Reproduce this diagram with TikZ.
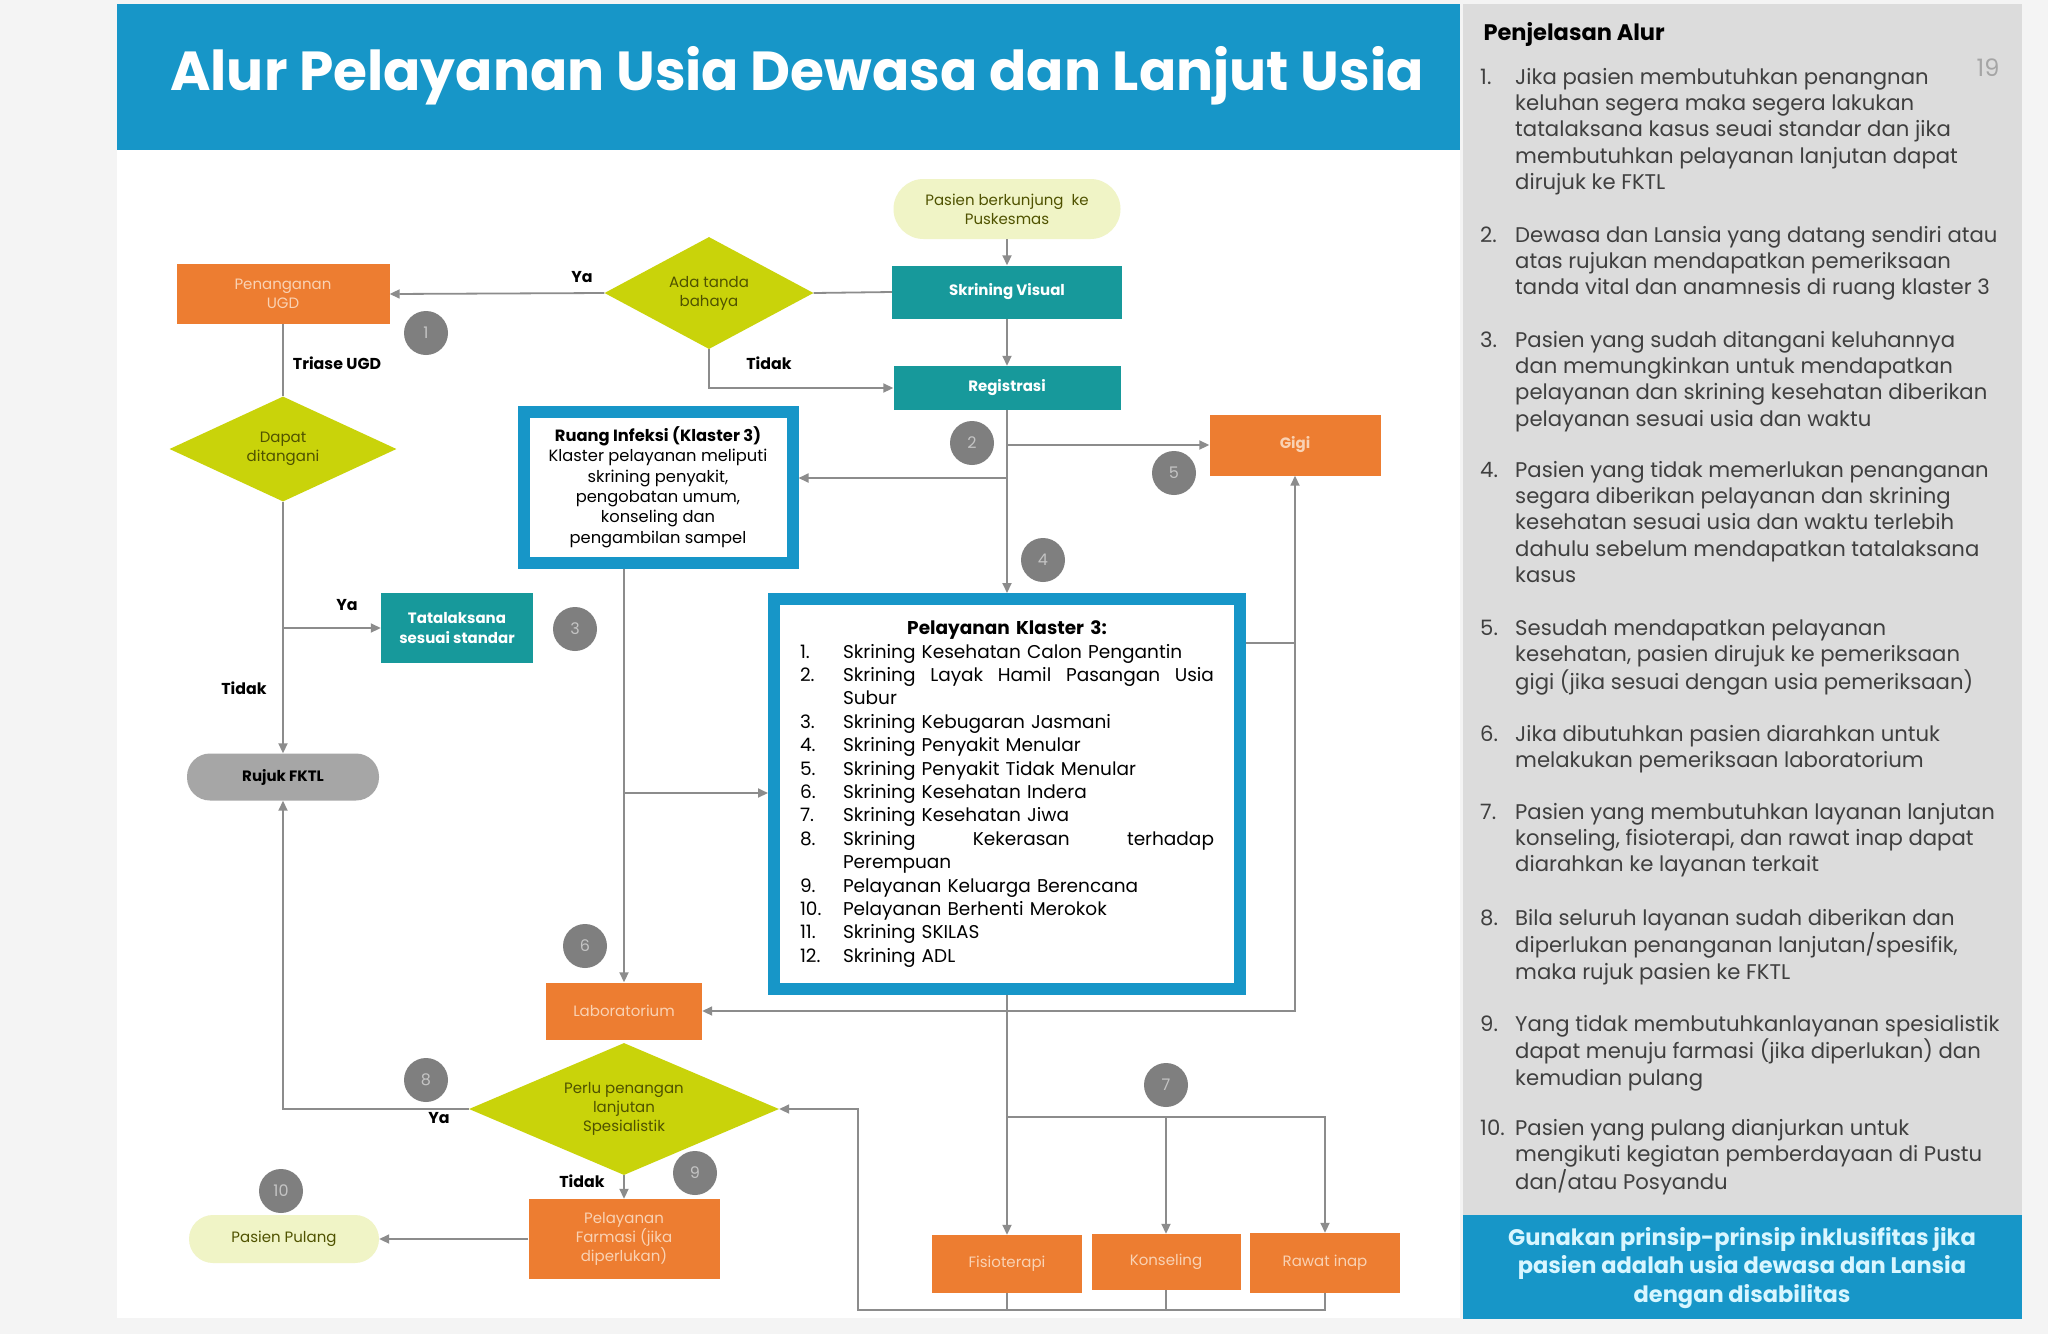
\documentclass[tikz,border=0pt]{standalone}
\usepackage{fontspec}
\setmainfont{Poppins}
\usetikzlibrary{arrows.meta,shapes.geometric}

\definecolor{bannerblue}{HTML}{1796C8}
\definecolor{tealfill}{HTML}{17999B}
\definecolor{orangefill}{HTML}{ED7D31}
\definecolor{orangetext}{HTML}{F9D2B4}
\definecolor{limefill}{HTML}{C9D30A}
\definecolor{olivetext}{HTML}{4F5200}
\definecolor{palefill}{HTML}{F0F4C6}
\definecolor{pillgray}{HTML}{A6A6A6}
\definecolor{numgray}{HTML}{7F7F7F}
\definecolor{numtext}{HTML}{C4C4C4}
\definecolor{linegray}{HTML}{8C8C8C}
\definecolor{panelgray}{HTML}{DCDCDC}
\definecolor{paneltext}{HTML}{3F3F3F}
\definecolor{notetext}{HTML}{D8F6FF}
\definecolor{pagegray}{HTML}{F4F4F4}

% one numbered item of the side panel
\newcommand{\panelitem}[2]{\begin{tabular}[t]{@{}p{35pt}@{}l@{}}#1&#2\end{tabular}}

\begin{document}
\begin{tikzpicture}[x=1pt, y=-1pt,
    plainline/.style={draw=linegray, line width=1.8pt},
    arrowline/.style={plainline, -{Triangle[length=10pt,width=9pt]}},
    flowbox/.style={rectangle, inner sep=0pt, align=center, font=\fontsize{15}{19}\selectfont},
    tealbox/.style={flowbox, fill=tealfill, text=white, font=\bfseries\fontsize{15}{19}\selectfont},
    orangebox/.style={flowbox, fill=orangefill, text=orangetext},
    choicebox/.style={diamond, fill=limefill, inner sep=0pt, align=center, text=olivetext, font=\fontsize{15}{19}\selectfont},
    pillbox/.style={flowbox, fill=palefill, text=olivetext},
    klasterframe/.style={rectangle, draw=bannerblue, line width=12pt, fill=white, inner sep=0pt},
    numcircle/.style={circle, fill=numgray, text=numtext, minimum size=44pt, inner sep=0pt, font=\fontsize{16}{16}\selectfont},
    edgelabel/.style={inner sep=0pt, font=\bfseries\fontsize{15.8}{16}\selectfont},
  ]
\useasboundingbox (0,0) rectangle (2048,1334);
\fill[pagegray] (0,0) rectangle (2048,1334);
\fill[white] (117,150) rectangle (1460,1318);

% title banner
\fill[bannerblue] (117,4) rectangle (1460,150);
\node[text=white, font=\bfseries\fontsize{55}{62}\selectfont] (title) at (797,76) {Alur Pelayanan Usia Dewasa dan Lanjut Usia};

% side panel
\fill[panelgray] (1463,4) rectangle (2022,1215);
\fill[bannerblue] (1463,1215) rectangle (2022,1319);
\node[anchor=west, font=\bfseries\fontsize{22.5}{22.5}\selectfont] (paneltitle) at (1480,34) {Penjelasan Alur};
\node[text=numgray!70, font=\fontsize{24}{24}\selectfont] (pagenum) at (1988,68) {19};

\begin{scope}[every node/.style={anchor=base west, inner sep=0pt, text=paneltext, font=\fontsize{21.2}{26.4}\selectfont}]
\node (p1) at (1480,84) {\panelitem{1.}{Jika pasien membutuhkan penangnan\\&keluhan segera maka segera lakukan\\&tatalaksana kasus seuai standar dan jika\\&membutuhkan pelayanan lanjutan dapat\\&dirujuk ke FKTL}};
\node (p2) at (1480,242) {\panelitem{2.}{Dewasa dan Lansia yang datang sendiri atau\\&atas rujukan mendapatkan pemeriksaan\\&tanda vital dan anamnesis di ruang klaster 3}};
\node (p3) at (1480,347) {\panelitem{3.}{Pasien yang sudah ditangani keluhannya\\&dan memungkinkan untuk mendapatkan\\&pelayanan dan skrining kesehatan diberikan\\&pelayanan sesuai usia dan waktu}};
\node (p4) at (1480,477) {\panelitem{4.}{Pasien yang tidak memerlukan penanganan\\&segara diberikan pelayanan dan skrining\\&kesehatan sesuai usia dan waktu terlebih\\&dahulu sebelum mendapatkan tatalaksana\\&kasus}};
\node (p5) at (1480,635) {\panelitem{5.}{Sesudah mendapatkan pelayanan\\&kesehatan, pasien dirujuk ke pemeriksaan\\&gigi (jika sesuai dengan usia pemeriksaan)}};
\node (p6) at (1480,741) {\panelitem{6.}{Jika dibutuhkan pasien diarahkan untuk\\&melakukan pemeriksaan laboratorium}};
\node (p7) at (1480,819) {\panelitem{7.}{Pasien yang membutuhkan layanan lanjutan\\&konseling, fisioterapi, dan rawat inap dapat\\&diarahkan ke layanan terkait}};
\node (p8) at (1480,925) {\panelitem{8.}{Bila seluruh layanan sudah diberikan dan\\&diperlukan penanganan lanjutan/spesifik,\\&maka rujuk pasien ke FKTL}};
\node (p9) at (1480,1031) {\panelitem{9.}{Yang tidak membutuhkanlayanan spesialistik\\&dapat menuju farmasi (jika diperlukan) dan\\&kemudian pulang}};
\node (p10) at (1480,1135) {\panelitem{10.}{Pasien yang pulang dianjurkan untuk\\&mengikuti kegiatan pemberdayaan di Pustu\\&dan/atau Posyandu}};
\end{scope}
\node[text=notetext, align=center, font=\bfseries\fontsize{22.5}{28.5}\selectfont] (note) at (1742,1268) {Gunakan prinsip-prinsip inklusifitas jika\\pasien adalah usia dewasa dan Lansia\\dengan disabilitas};

% flow nodes
\node[pillbox, rounded corners=30pt, minimum width=227pt, minimum height=60pt] (pasien) at (1007,209) {Pasien berkunjung\ \ ke\\Puskesmas};
\node[tealbox, minimum width=230pt, minimum height=53pt] (skrvis) at (1007,292) {Skrining Visual};
\node[tealbox, minimum width=227pt, minimum height=44pt] (regis) at (1007,388) {Registrasi};
\node[choicebox, aspect=1.87, minimum width=209pt, minimum height=112pt] (bahaya) at (709,293) {Ada tanda\\bahaya};
\node[orangebox, minimum width=213pt, minimum height=60pt] (ugd) at (283,294) {Penanganan\\UGD};
\node[choicebox, aspect=2.16, minimum width=227pt, minimum height=105pt] (dapat) at (283,449) {Dapat\\ditangani};
\node[klasterframe, minimum width=269pt, minimum height=151pt, align=center, font=\fontsize{16.3}{20.4}\selectfont] (infeksi) at (658,487) {{\bfseries Ruang Infeksi (Klaster 3)}\\Klaster pelayanan meliputi\\skrining penyakit,\\pengobatan umum,\\konseling dan\\pengambilan sampel};
\node[orangebox, minimum width=171pt, minimum height=61pt, font=\bfseries\fontsize{15}{19}\selectfont] (gigi) at (1295,445) {Gigi};
\node[tealbox, minimum width=152pt, minimum height=70pt, font=\bfseries\fontsize{15}{20}\selectfont] (tatalaks) at (457,628) {Tatalaksana\\sesuai standar};
\node[flowbox, fill=pillgray, rounded corners=23pt, minimum width=192pt, minimum height=47pt, font=\bfseries\fontsize{15}{19}\selectfont] (rujuk) at (283,777) {Rujuk FKTL};
\node[klasterframe, minimum width=466pt, minimum height=390pt, text width=414pt, align=left, font=\fontsize{18.5}{23.4}\selectfont] (klaster) at (1007,794) {%
\makebox[414pt]{\bfseries Pelayanan Klaster 3:}\\
\makebox[43pt][l]{1.}Skrining Kesehatan Calon Pengantin\\
\makebox[414pt][l]{\makebox[43pt][l]{2.}Skrining\hfill Layak\hfill Hamil\hfill Pasangan\hfill Usia}\\
\hspace*{43pt}Subur\\
\makebox[43pt][l]{3.}Skrining Kebugaran Jasmani\\
\makebox[43pt][l]{4.}Skrining Penyakit Menular\\
\makebox[43pt][l]{5.}Skrining Penyakit Tidak Menular\\
\makebox[43pt][l]{6.}Skrining Kesehatan Indera\\
\makebox[43pt][l]{7.}Skrining Kesehatan Jiwa\\
\makebox[414pt][l]{\makebox[43pt][l]{8.}Skrining\hfill Kekerasan\hfill terhadap}\\
\hspace*{43pt}Perempuan\\
\makebox[43pt][l]{9.}Pelayanan Keluarga Berencana\\
\makebox[43pt][l]{10.}Pelayanan Berhenti Merokok\\
\makebox[43pt][l]{11.}Skrining SKILAS\\
\makebox[43pt][l]{12.}Skrining ADL};
\node[orangebox, minimum width=156pt, minimum height=57pt] (lab) at (624,1011) {Laboratorium};
\node[choicebox, aspect=2.35, minimum width=310pt, minimum height=132pt] (perlu) at (624,1109) {Perlu penangan\\lanjutan\\Spesialistik};
\node[orangebox, minimum width=191pt, minimum height=80pt] (farmasi) at (624,1239) {Pelayanan\\Farmasi (jika\\diperlukan)};
\node[pillbox, rounded corners=24pt, minimum width=190pt, minimum height=48pt] (pulang) at (284,1239) {Pasien Pulang};
\node[orangebox, minimum width=150pt, minimum height=58pt] (fisio) at (1007,1264) {Fisioterapi};
\node[orangebox, minimum width=149pt, minimum height=56pt] (konsel) at (1166,1262) {Konseling};
\node[orangebox, minimum width=150pt, minimum height=60pt] (rawat) at (1325,1263) {Rawat inap};

% step numbers
\node[numcircle] (c1) at (426,333) {1};
\node[numcircle] (c2) at (972,443) {2};
\node[numcircle] (c3) at (575,629) {3};
\node[numcircle] (c4) at (1043,560) {4};
\node[numcircle] (c5) at (1174,473) {5};
\node[numcircle] (c6) at (585,946) {6};
\node[numcircle] (c7) at (1166,1085) {7};
\node[numcircle] (c8) at (426,1080) {8};
\node[numcircle] (c9) at (695,1173) {9};
\node[numcircle] (c10) at (281,1191) {10};

% junctions
\coordinate (jd) at (283,628);
\coordinate (jg) at (1007,445);
\coordinate (ji) at (1007,478);
\coordinate (jl) at (624,793);
\coordinate (kr) at (1295,643);
\coordinate (ks) at (1007,1117);
\coordinate (bl) at (858,1310);

% connectors
\draw[arrowline] (pasien) -- (skrvis);
\draw[arrowline] (skrvis) -- (regis);
\draw[plainline] (skrvis.west) -- (bahaya.east);
\draw[arrowline] (bahaya.west) -- (ugd.east);
\draw[arrowline] (bahaya.south) |- (regis.west);
\draw[plainline] (ugd.south) -- (dapat.north);
\draw[arrowline] (dapat.south) -- (rujuk.north);
\draw[arrowline] (jd) -- (tatalaks.west);
\draw[arrowline] (regis.south) -- (klaster.north);
\draw[arrowline] (jg) -- (gigi.west);
\draw[arrowline] (ji) -- (ji -| infeksi.east);
\draw[arrowline] (lab.north |- infeksi.south) -- (lab.north);
\draw[arrowline] (jl) -- (jl -| klaster.west);
\draw[plainline] (klaster.east |- kr) -- (kr);
\draw[arrowline] (kr) -- (gigi.south);
\draw[arrowline] (kr) |- (lab.east);
\draw[plainline] (klaster.south) -- (ks);
\draw[arrowline] (ks) -- (fisio.north);
\draw[arrowline] (ks -| konsel.north) -- (konsel.north);
\draw[arrowline] (ks) -| (rawat.north);
\draw[plainline] (fisio.south) -- (fisio.south |- bl);
\draw[plainline] (konsel.south) -- (konsel.south |- bl);
\draw[arrowline] (rawat.south) |- (bl) |- (perlu.east);
\draw[arrowline] (perlu.west) -| (rujuk.south);
\draw[arrowline] (perlu.south) -- (farmasi.north);
\draw[arrowline] (farmasi.west) -- (pulang.east);

% connector labels
\node[edgelabel] (ya1) at (582,277) {Ya};
\node[edgelabel] (tidak1) at (769,363) {Tidak};
\node[edgelabel] (triase) at (337,363) {Triase UGD};
\node[edgelabel] (ya2) at (347,605) {Ya};
\node[edgelabel] (tidak2) at (244,688) {Tidak};
\node[edgelabel] (ya3) at (439,1118) {Ya};
\node[edgelabel] (tidak3) at (582,1181) {Tidak};
\end{tikzpicture}
\end{document}
